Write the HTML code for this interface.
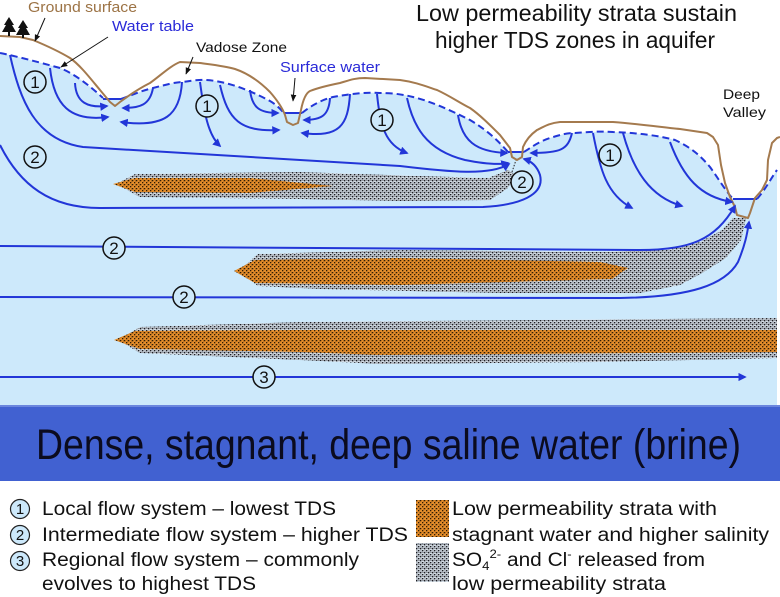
<!DOCTYPE html>
<html><head><meta charset="utf-8"><style>
html,body{margin:0;padding:0;background:#fff;}
svg{display:block;}
text{font-family:"Liberation Sans",Arial,sans-serif;}
</style></head><body>
<svg width="780" height="597" viewBox="0 0 780 597" xmlns="http://www.w3.org/2000/svg">
<defs>
<pattern id="org" width="4" height="4" patternUnits="userSpaceOnUse">
<rect width="4" height="4" fill="#e38c2a"/>
<rect x="0" y="0" width="1.3" height="1.3" fill="#2e1c05"/>
<rect x="2" y="2" width="1.3" height="1.3" fill="#2e1c05"/>
<rect x="3" y="0.5" width="0.8" height="0.8" fill="#5a360c"/>
</pattern>
<pattern id="stp" width="4" height="4" patternUnits="userSpaceOnUse">
<rect width="4" height="4" fill="#dae4ec"/>
<rect x="0" y="0" width="1.4" height="1.4" fill="#1c1c22"/>
<rect x="2" y="2" width="1.4" height="1.4" fill="#1c1c22"/>
<rect x="2.5" y="0.1" width="1" height="1" fill="#3e3e48"/>
<rect x="0.5" y="2.5" width="1" height="1" fill="#3e3e48"/>
</pattern>
<marker id="ar" viewBox="0 0 10 10" refX="8" refY="5" markerWidth="4.2" markerHeight="4.2" orient="auto" markerUnits="strokeWidth">
<path d="M0,0 L10,5 L0,10 z" fill="#2236d8"/>
</marker>
<marker id="bk" viewBox="0 0 10 10" refX="9" refY="5" markerWidth="7" markerHeight="7" orient="auto" markerUnits="strokeWidth">
<path d="M0,1 L10,5 L0,9 z" fill="#111"/>
</marker>
</defs>

<path d="M0,53 C20,57 45,64 60,68 C75,74 90,86 103,98 L121,99 C130,96 140,91 153,88 C165,85 175,82 183,82 C195,80 205,79 215,81 C235,84 255,93 270,101 C277,105 281,110 284,113 L302,113 C308,108 320,100 333,97 C350,94 365,92 380,93 C395,93 405,95 413,97 C430,101 450,110 470,120 C490,132 500,143 508,152 L524,152 C530,148 540,141 550,138 C560,135 565,133 575,133 C590,132 600,131 613,132 C640,133 660,136 675,140 C690,147 700,155 710,167 C718,178 725,190 733,199 L757,199 C765,190 770,180 777,170 L777,405 L0,405 Z" fill="#cde9fb"/>

<rect x="0" y="405" width="780" height="76" fill="#4161d1"/>
<rect x="0" y="405" width="780" height="2" fill="#6b86de"/>
<text x="36" y="459" font-size="43" fill="#0b0b1e" textLength="705" lengthAdjust="spacingAndGlyphs">Dense, stagnant, deep saline water (brine)</text>

<path d="M116,184 L135,174 L300,172 L420,176 L488,178 L508,170 L516,175 L508,188 L490,200 L400,201 L300,199 L140,197 Z" fill="url(#stp)"/>
<path d="M113,184 L135,178 L250,178 L333,186 L250,193 L135,192 Z" fill="url(#org)"/>
<path d="M512,172 L516,160" stroke="#222" stroke-width="1" stroke-dasharray="1.5,1.5"/>
<path d="M238,271 L258,254 L400,250 L600,252 L665,250 L700,242 L722,230 L733,218 L746,218 L741,240 L726,258 L702,273 L680,285 L640,293 L500,293 L320,289 L258,286 Z" fill="url(#stp)"/>
<path d="M234,271 L255,260 L400,258 L600,262 L628,268 L612,279 L400,285 L255,283 Z" fill="url(#org)"/>
<path d="M118,340 L140,327 L300,322 L777,318 L777,358 L600,362 L380,364 L300,360 L140,353 Z" fill="url(#stp)"/>
<path d="M114,340 L135,331 L300,330 L777,330 L777,352 L380,355 L300,352 L140,349 Z" fill="url(#org)"/>

<g fill="none" stroke="#2236d8" stroke-width="2" stroke-dasharray="7,4">
<path d="M0,53 C20,57 45,64 60,68 C75,74 90,86 103,98"/>
<path d="M121,99 C130,96 140,91 153,88 C165,85 175,82 183,82 C195,80 205,79 215,81 C235,84 255,93 270,101 C277,105 281,110 284,113"/>
<path d="M302,113 C308,108 320,100 333,97 C350,94 365,92 380,93 C395,93 405,95 413,97 C430,101 450,110 470,120 C490,132 500,143 508,152"/>
<path d="M524,152 C530,148 540,141 550,138 C560,135 565,133 575,133 C590,132 600,131 613,132 C640,133 660,136 675,140 C690,147 700,155 710,167 C718,178 725,190 733,199"/>
<path d="M757,199 C765,190 770,180 777,170"/>
</g>
<g stroke="#2236d8" stroke-width="2">
<path d="M103,99 L121,99"/><path d="M284,113 L302,113"/><path d="M508,152 L524,152"/><path d="M733,199 L757,199"/>
</g>

<path d="M0,36 L20,37 L33,40 C45,45 60,52 70,58 C80,65 90,78 100,90 L110,102 L115,106 L120,102 C128,96 140,88 150,83 C160,76 170,66 180,62 L200,63 C215,65 225,66 235,69 C250,74 262,84 270,92 C277,100 282,107 285,115 L287,122 L293,125 L298,123 L301,110 C303,100 306,93 310,91 C320,87 330,85 340,83 C350,80 355,78 365,78 L400,80 C415,82 425,86 437,90 C450,96 460,103 470,108 C480,115 490,125 500,135 L510,148 L512,157 L517,160 L522,157 L523,147 C526,140 530,135 537,130 C545,126 550,123 560,122 L613,122 C640,124 660,127 680,129 L707,133 L713,137 L718,145 L721,165 L725,183 L730,197 L735,207 L737,215 L748,218 L750,213 L755,198 L762,190 L767,180 L768,160 L772,143 L777,138 L780,137" fill="none" stroke="#a47a4e" stroke-width="2" stroke-linejoin="round"/>

<path d="M9,17 L4,25 L6,25 L2,32 L8,32 L8,36 L10,36 L10,32 L16,32 L12,25 L14,25 Z" fill="#111"/>
<path d="M23,20 L18,28 L20,28 L16,35 L22,35 L22,38 L24,38 L24,35 L30,35 L26,28 L28,28 Z" fill="#111"/>

<g fill="none" stroke="#2236d8" stroke-width="2" marker-end="url(#ar)">
<path d="M50,68 C54,105 70,122 108,117"/>
<path d="M75,83 C76,103 88,108 107,106"/>
<path d="M153,88 C150,105 140,108 123,108"/>
<path d="M182,82 C180,115 165,128 121,122"/>
<path d="M200,82 C204,112 208,135 220,146"/>
<path d="M220,85 C228,120 240,132 279,130"/>
<path d="M250,90 C252,108 260,113 278,113"/>
<path d="M330,98 C329,115 322,120 304,120"/>
<path d="M350,94 C348,125 340,138 302,133"/>
<path d="M377,94 C380,125 385,145 407,153"/>
<path d="M407,98 C413,125 425,150 465,160 C485,164 498,165 508,163"/>
<path d="M458,115 C462,140 475,152 507,153"/>
<path d="M10,55 C20,100 35,140 83,147 L400,166 C450,172 490,176 509,164"/>
<path d="M0,145 C20,185 50,208 100,208 L483,207 C520,205 545,195 540,175 C537,166 531,161 524,159"/>
<path d="M572,133 C568,150 560,153 531,153"/>
<path d="M593,133 C600,170 607,195 632,208"/>
<path d="M623,133 C633,170 650,197 682,206"/>
<path d="M670,142 C683,177 700,197 732,202"/>
<path d="M0,246 L640,250 C690,250 715,240 735,206"/>
<path d="M0,297 L620,298 C690,297 725,285 738,262 C745,245 747,235 749,222"/>
<path d="M0,377 L745,377"/>
</g>

<g fill="#cde9fb" stroke="#111" stroke-width="1.5">
<circle cx="35" cy="82" r="11"/><circle cx="207" cy="106" r="11"/><circle cx="382" cy="120" r="11"/><circle cx="610" cy="155" r="11"/>
<circle cx="35" cy="157" r="11"/><circle cx="522" cy="182" r="11"/><circle cx="114" cy="248" r="11"/><circle cx="184" cy="297" r="11"/>
<circle cx="264" cy="377" r="11"/>
</g>
<g font-size="17" fill="#111" text-anchor="middle">
<text x="35" y="88">1</text><text x="207" y="112">1</text><text x="382" y="126">1</text><text x="610" y="161">1</text>
<text x="35" y="163">2</text><text x="522" y="188">2</text><text x="114" y="254">2</text><text x="184" y="303">2</text>
<text x="264" y="383">3</text>
</g>

<g stroke="#111" stroke-width="1" marker-end="url(#bk)">
<path d="M45,18 L35,41"/>
<path d="M108,37 L61,67"/>
<path d="M193,57 L186,74"/>
<path d="M295,78 L293,101"/>
</g>

<text x="28" y="12" font-size="15" fill="#9c7345" textLength="109" lengthAdjust="spacingAndGlyphs">Ground surface</text>
<text x="112" y="31" font-size="15" fill="#2a2ad8" textLength="82" lengthAdjust="spacingAndGlyphs">Water table</text>
<text x="196" y="52" font-size="14" fill="#111" textLength="91" lengthAdjust="spacingAndGlyphs">Vadose Zone</text>
<text x="280" y="72" font-size="15" fill="#2a2ad8" textLength="100" lengthAdjust="spacingAndGlyphs">Surface water</text>
<text x="723" y="99" font-size="14" fill="#111" textLength="37" lengthAdjust="spacingAndGlyphs">Deep</text>
<text x="723" y="117" font-size="14" fill="#111" textLength="43" lengthAdjust="spacingAndGlyphs">Valley</text>
<text x="416" y="21" font-size="23" fill="#111" textLength="321" lengthAdjust="spacingAndGlyphs">Low permeability strata sustain</text>
<text x="435" y="48" font-size="23" fill="#111" textLength="280" lengthAdjust="spacingAndGlyphs">higher TDS zones in aquifer</text>

<g fill="#cde9fb" stroke="#222" stroke-width="1.2">
<circle cx="20" cy="509" r="9.5"/><circle cx="20" cy="535" r="9.5"/><circle cx="20" cy="561" r="9.5"/>
</g>
<g font-size="15" fill="#111" text-anchor="middle">
<text x="20" y="514">1</text><text x="20" y="540">2</text><text x="20" y="566">3</text>
</g>
<g font-size="19" fill="#111">
<text x="42" y="515" textLength="294" lengthAdjust="spacingAndGlyphs">Local flow system – lowest TDS</text>
<text x="42" y="541" textLength="366" lengthAdjust="spacingAndGlyphs">Intermediate flow system – higher TDS</text>
<text x="42" y="566" textLength="317" lengthAdjust="spacingAndGlyphs">Regional flow system – commonly</text>
<text x="42" y="590" textLength="214" lengthAdjust="spacingAndGlyphs">evolves to highest TDS</text>
<text x="452" y="515" textLength="265" lengthAdjust="spacingAndGlyphs">Low permeability strata with</text>
<text x="452" y="541" textLength="317" lengthAdjust="spacingAndGlyphs">stagnant water and higher salinity</text>
<text x="452" y="566" font-size="19" textLength="253" lengthAdjust="spacingAndGlyphs">SO<tspan font-size="12" dy="4">4</tspan><tspan font-size="12" dy="-12">2-</tspan><tspan font-size="19" dy="8"> and Cl</tspan><tspan font-size="12" dy="-8">-</tspan><tspan font-size="19" dy="8"> released from</tspan></text>
<text x="452" y="590" textLength="214" lengthAdjust="spacingAndGlyphs">low permeability strata</text>
</g>
<rect x="416" y="500" width="33" height="37" fill="url(#org)"/>
<rect x="416" y="543" width="33" height="39" fill="url(#stp)"/>
</svg>
</body></html>
